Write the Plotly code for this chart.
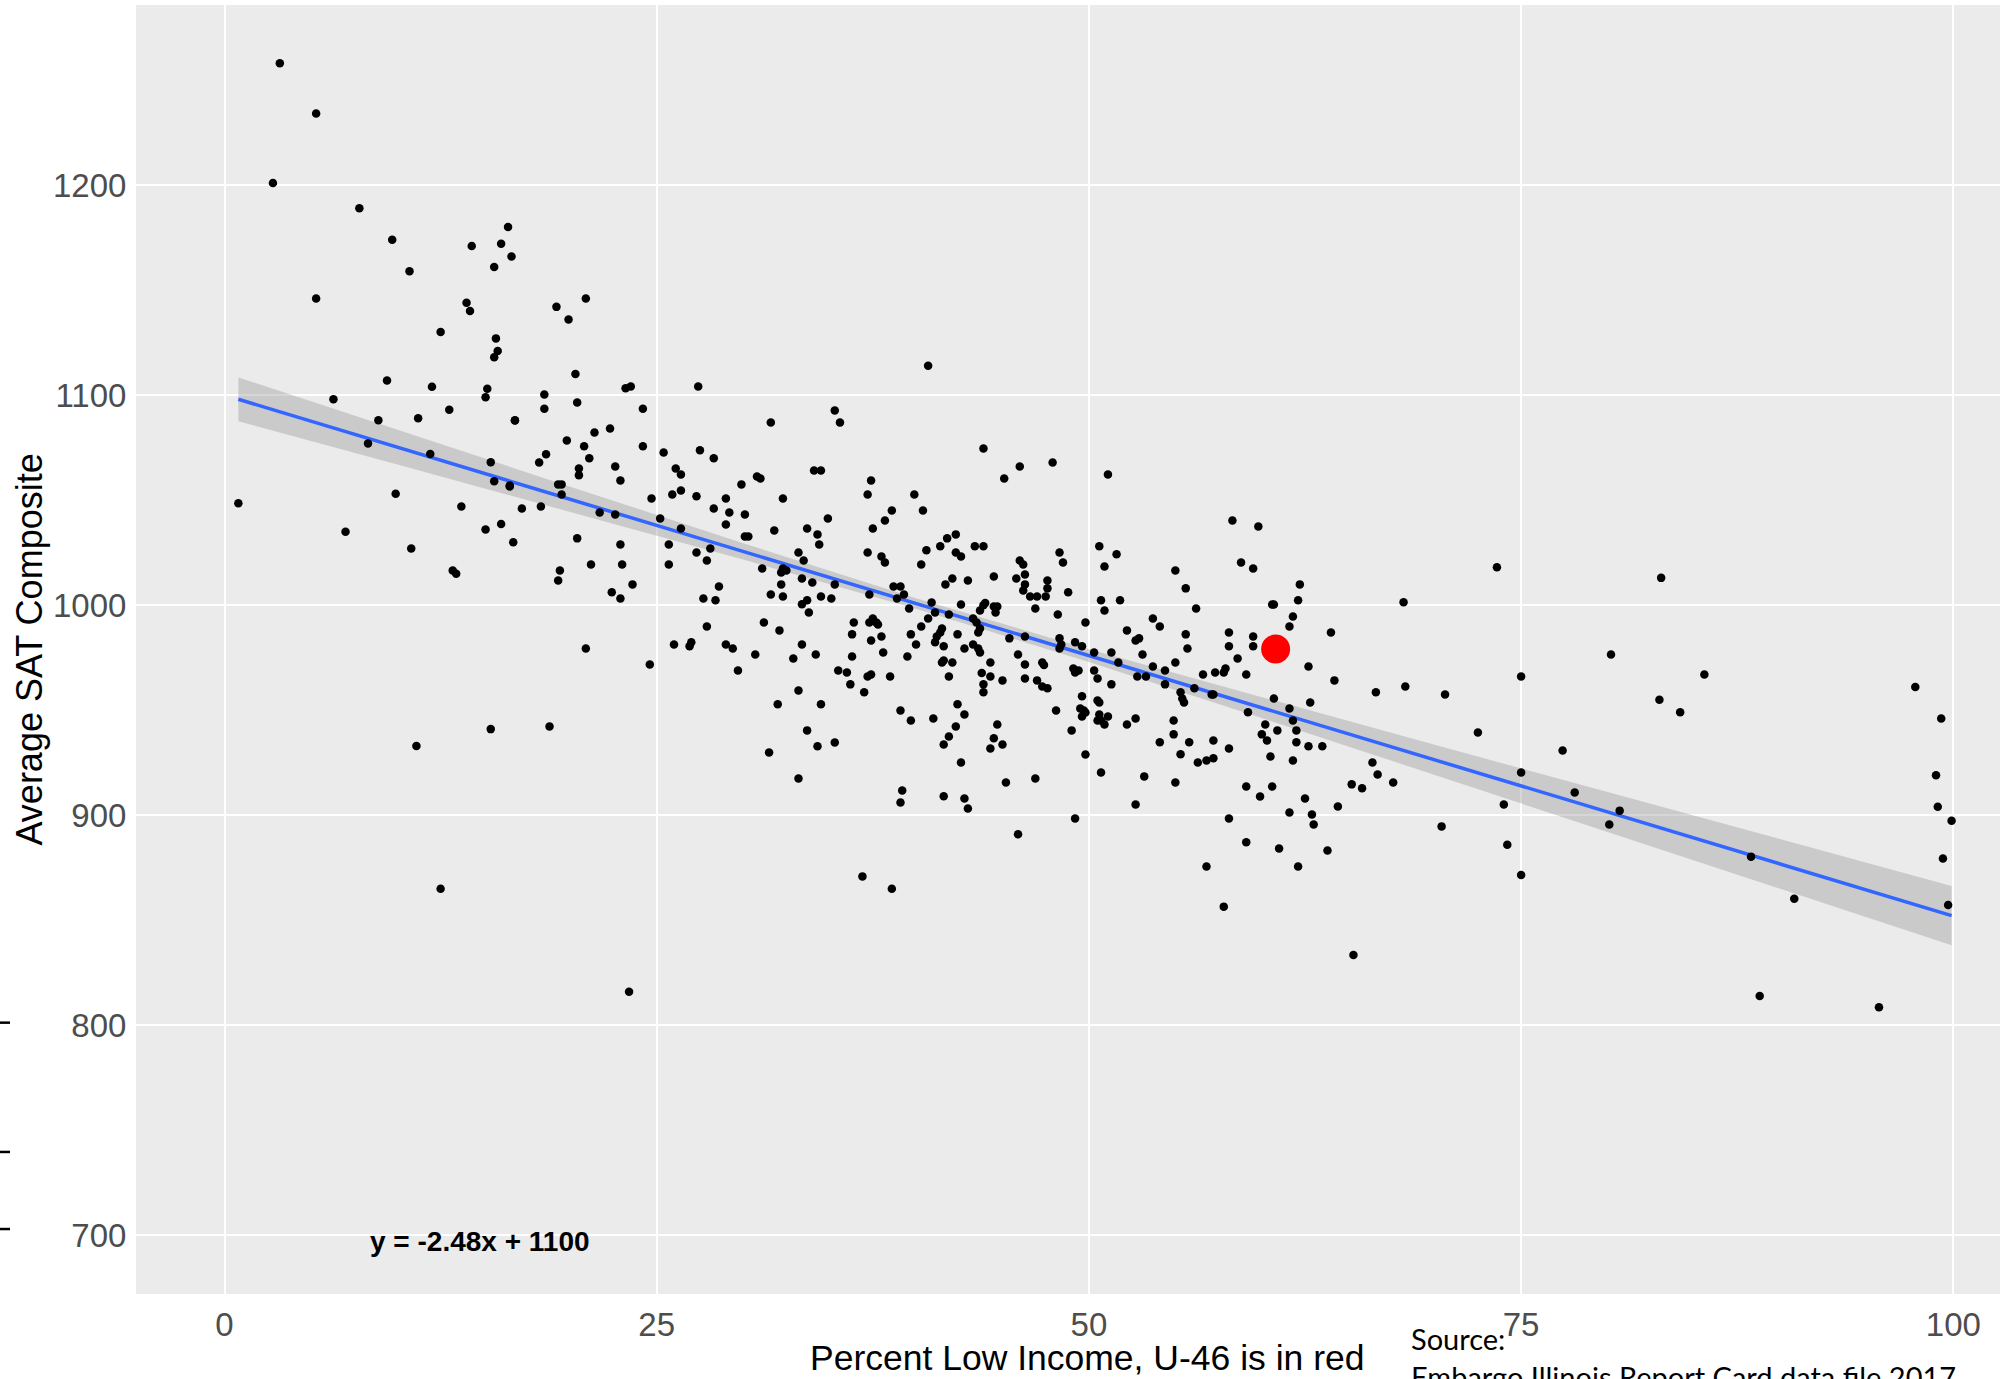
import plotly.graph_objects as go

# ---- data ----
pct_low_income = [
    3.2, 5.3, 2.8, 7.8, 9.7, 14.3, 16.0, 16.4, 16.6, 15.6, 10.7, 5.3, 14.0, 14.2, 19.2, 20.9, 19.9, 12.5, 15.7, 15.8,
    15.6, 20.3, 9.4, 12.0, 15.2, 15.1, 6.3, 8.9, 11.2, 13.0, 16.8, 8.3, 11.9, 15.4, 15.6, 16.5, 9.9,
    0.8, 7.0, 10.8, 13.2, 13.4, 15.1, 13.7, 11.1, 15.4, 12.5, 23.4,
    40.7, 38.6, 57.8, 95.7,
    73.6, 83.1, 80.2, 85.6, 75.0, 83.0, 84.2, 97.8, 99.3, 99.0, 99.1, 99.9, 99.4, 99.7, 77.4, 78.1, 80.7, 80.1, 75.0, 74.0,
    74.2, 75.0, 88.3, 90.8, 88.8, 65.3,
    23.2, 23.5, 27.4, 18.5, 18.5, 20.4, 24.2, 16.8, 35.3, 35.6, 31.6, 19.8, 21.4, 22.3, 20.8, 18.6, 18.2, 21.1, 24.2, 25.4,
    27.5, 28.3, 20.5, 20.5, 22.6, 22.9, 26.1, 26.4, 19.3, 19.5, 19.5, 16.5, 17.2, 18.3, 16.0, 16.7, 21.7, 22.6, 20.4, 22.9,
    21.2, 23.0, 19.4, 19.3, 22.4, 22.9, 23.6, 24.7, 25.2, 25.9, 26.4, 27.3, 26.4, 25.7, 25.7, 27.3, 28.1, 27.9, 28.6, 27.7,
    28.4, 29.0, 28.3, 29.2, 29.0, 30.1, 30.1, 30.3, 29.9, 30.8, 31.0, 32.3, 31.8, 34.1, 34.5, 34.9, 33.7, 34.3, 34.4, 37.4,
    37.2, 39.9, 40.4, 38.6, 38.2, 37.5, 37.2, 38.0, 38.2, 41.8, 42.3, 41.4, 40.6, 40.3, 42.3, 42.6, 43.4, 42.1, 41.7, 43.0,
    33.2, 33.5, 31.1, 32.3, 32.5, 32.2, 32.2, 33.4, 34.0, 31.6, 32.3, 35.3, 34.5, 35.1, 33.7, 33.4, 33.8,
    37.3, 38.7, 39.1, 39.3, 38.9, 39.6, 40.9, 41.1, 40.7, 41.9, 40.3, 39.7, 40.0, 39.5, 41.5, 41.4, 41.2, 41.1, 41.6, 42.4,
    42.8, 42.6, 43.3, 43.5, 43.7, 43.6, 43.7, 43.3, 43.6, 43.7,
    41.5, 41.6, 42.1, 41.9, 38.5, 38.1, 38.0, 37.4, 37.3, 37.5, 37.7, 37.8, 36.4, 36.3, 36.3, 35.5, 36.0, 36.2, 37.2, 37.4,
    37.0, 31.2, 32.1, 30.7, 29.7, 29.0, 29.4, 27.9, 26.9, 27.0, 26.0, 24.6, 20.9, 18.8,
    33.4, 32.9, 34.2, 33.2, 32.0, 34.5, 33.7, 34.3, 35.3, 31.5, 33.2,
    39.1, 39.7, 41.0, 42.4, 42.8, 42.3, 41.9, 41.6, 42.6, 39.2, 39.1, 41.6, 42.8, 43.0, 36.9,
    43.9, 45.1, 46.0, 47.9, 51.1, 43.9, 44.5, 45.8, 46.0, 46.2, 46.3, 46.3, 46.2, 46.6, 47.0, 47.5, 47.6, 47.6, 46.9, 48.3,
    48.5, 48.8, 48.2, 43.9, 44.0, 44.5, 44.7, 44.6,
    43.8, 43.9, 43.9, 44.3, 44.3, 45.0, 45.4, 46.3, 45.9, 46.3, 46.3, 47.3, 47.4, 47.0, 47.3, 47.6,
    48.3, 48.4, 48.3, 49.2, 49.6, 49.1, 49.2, 49.4, 49.8, 50.3, 50.3, 50.5,
    50.6, 51.6, 50.9, 50.7, 50.9, 51.8, 51.3, 51.7, 51.3, 52.2, 52.7, 52.9, 53.1, 53.7, 54.1, 53.7, 54.4, 52.8, 53.3, 54.4,
    55.0, 55.6, 56.2, 55.6, 55.7, 55.0, 56.1, 55.3, 55.4, 55.5, 56.6, 57.1, 57.2, 57.3, 57.8, 57.9, 58.1, 58.1, 58.6, 59.1,
    58.8, 59.5, 58.3, 59.8, 59.5, 59.5, 60.6, 60.7,
    62.2, 62.1, 61.8, 61.6, 62.7, 64.0, 64.2, 60.7, 61.6, 62.8, 59.2, 61.8, 62.0, 60.2, 60.9, 60.0, 60.3, 62.0, 62.7, 63.5,
    60.5, 61.8, 58.1, 57.2, 55.8, 54.1, 54.9, 54.9, 55.3, 56.3, 56.8, 57.2, 55.0, 53.2, 52.7, 52.2, 52.7, 50.7, 49.8, 49.2,
    49.0, 48.1, 49.6, 49.5, 49.7, 49.6, 49.8, 50.5, 50.6, 50.6, 50.7, 50.5, 51.1, 50.9,
    44.7, 44.5, 44.3, 45.0, 45.2, 46.9, 45.9,
    59.1, 59.9, 60.6, 58.1, 59.1, 61.0, 62.1, 56.8, 61.6, 62.5, 62.9, 63.0, 63.8, 64.4, 65.2, 65.8, 66.4, 66.7, 67.6, 66.6,
    68.3, 70.6, 68.2, 72.5, 70.4,
]
avg_sat_composite = [
    1258, 1234, 1201, 1189, 1174, 1171, 1172, 1180, 1166, 1161, 1159, 1146, 1144, 1140, 1142, 1146, 1136, 1130, 1127, 1121,
    1118, 1110, 1107, 1104, 1103, 1099, 1098, 1088, 1089, 1093, 1088, 1077, 1072, 1068, 1059, 1057, 1053,
    1048.5, 1035, 1027, 1016.5, 1015, 1036, 1047, 933, 941, 865, 816,
    1114, 865, 856.5, 808.6,
    1018, 1013, 976.5, 967, 966, 955, 949, 961, 946, 919, 904, 897.4, 879.4, 857.3, 930.8, 910.8, 902.2, 895.6, 920.3, 905.1,
    886, 871.6, 880.3, 860.3, 814, 833.5,
    1103.3, 1104.1, 1104.1, 1100.3, 1093.5, 1096.5, 1093.5, 1087.9, 1092.7, 1087, 1087, 1078.4, 1082.2, 1084.1, 1075.6, 1071.8, 1067.9, 1069.9, 1075.6, 1072.7,
    1073.7, 1069.9, 1065.1, 1061.9, 1066, 1059.4, 1065.1, 1062.2, 1057.5, 1057.5, 1052.7, 1056.5, 1046, 1047, 1038.6, 1029.9, 1044.1, 1043.2, 1031.8, 1028.9,
    1019.4, 1019.4, 1016.5, 1011.8, 1006.1, 1003.2, 1009.9, 1050.8, 1041.3, 1052.7, 1054.6, 1051.8, 1036.5, 1028.9, 1019.4, 1025.1, 1027, 1021.3, 1008.9, 1003.2,
    1002.3, 1050.8, 1046, 1044.1, 1038.4, 1043.2, 1032.7, 1032.7, 1057.5, 1061.3, 1060.3, 1050.8, 1035.6, 1064.1, 1064.1, 1041.3, 1036.5, 1033.7, 1028.9, 1059.4,
    1052.7, 1052.7, 1045.1, 1045.1, 1040.3, 1036.5, 1025.1, 1023.2, 1020.3, 1031.8, 1033.7, 1028, 1026.1, 1019.4, 1025.1, 1023.2, 1028, 1012.7, 1009.9, 1011.8,
    1025.1, 1021.3, 1017.5, 1017.5, 1016.5, 1015.6, 1009.9, 1012.7, 1010.8, 1005.1, 1004.1, 1009.9, 1004.1, 1003.2, 1002.3, 1000.4, 996.5,
    1005.1, 1008.9, 1008.9, 1005.1, 1003.2, 998.4, 1001.3, 996.5, 993.7, 995.6, 989.9, 986.1, 981.3, 975.6, 988.9, 987, 985.1, 982.3, 980.4, 986.1,
    979.4, 1000.3, 993.7, 991.8, 988.9, 987, 997.5, 981.3, 979.4, 977.5,
    972.7, 973.7, 972.7, 966.1, 966.1, 977.5, 985.1, 983.2, 991.8, 993.7, 991.8, 990.8, 991.8, 986.1, 975.6, 968.9, 968, 962.3, 966.1, 967,
    958.5, 991.8, 988, 976.5, 968.9, 981.3, 979.4, 989.9, 980.4, 982.3, 981.3, 971.8, 979.4, 942.3,
    981.3, 974.6, 976.5, 959.4, 952.8, 952.8, 940.4, 932.8, 934.6, 929.9, 917.5,
    949.9, 945.1, 946.1, 952.8, 948, 942.3, 937.5, 933.7, 925.1, 911.8, 906.1, 909, 908, 903.2, 870.9,
    1074.6, 1060.3, 1066, 1067.9, 1062.2, 1028, 1013.7, 1012.7, 1021.3, 1019.4, 1014.6, 1009.9, 1007, 1004.1, 1004.1, 1004.1, 1011.8, 1008, 998.4, 1025.1,
    1020.3, 1006.1, 995.6, 1000, 1001, 999.4, 999.4, 996.5,
    967.7, 962.3, 958.5, 972.7, 966.1, 964.2, 984.2, 985.1, 976.5, 971.8, 965.1, 972.7, 971.5, 964.2, 961.3, 960.4,
    984.2, 981.3, 979.4, 982.3, 980.4, 969.9, 968, 968.9, 991.8, 977.5, 968.9, 965.1,
    1028, 1024.2, 1018.4, 1002.3, 997.5, 1002.3, 977.5, 972.7, 962.3, 988, 983.2, 984.2, 976.5, 993.7, 989.9, 970.8, 968.9, 966.1, 966.1, 962.3,
    1016.5, 1008, 998.4, 986.1, 979.4, 972.7, 960.4, 958.5, 955.6, 953.7, 967, 957.5, 957.5, 967.9, 967.9, 969.9, 987, 980.4, 974.6, 967,
    1020.3, 1017.5, 1040.3, 1037.5, 985.1, 980.4, 1000.3, 1000.3,
    1009.9, 1002.3, 994.6, 989.9, 970.8, 987, 964.2, 955.6, 950.8, 953.7, 949, 945.1, 940.4, 943.2, 940.4, 938.5, 935.6, 934.7, 932.8, 932.8,
    928, 926.1, 931.8, 935.6, 934.7, 934.7, 945.1, 938.5, 929, 925.1, 926.1, 927.1, 915.6, 918.5, 905.1, 943.2, 946.1, 920.4, 928.9, 898.5,
    940.4, 949.9, 956.6, 950.8, 949.9, 947, 948.9, 954.6, 953.7, 948, 945.1, 945.1, 947, 943.2,
    943.2, 936.6, 931.8, 933.7, 915.6, 917.5, 890.9,
    913.7, 908.9, 913.7, 898.5, 887.1, 884.2, 875.6, 875.6, 901.3, 908, 900.4, 895.6, 883.2, 904.2, 914.7, 912.8, 925.1, 919.4, 915.6, 958.5,
    961.3, 957.5, 1001.4, 939.4, 894.7,
]

u46_x = [60.8]
u46_y = [979.1]

fit_x = [0.8, 99.9]
fit_y = [1098.0, 852.2]

band_x = [0.8, 10, 20, 30, 40, 50, 60, 70, 80, 90, 99.9]
band_upper = [1108.4, 1083.4, 1056.4, 1029.5, 1003.3, 979.0, 956.1, 933.5, 911.1, 888.6, 866.3]
band_lower = [1087.6, 1067.0, 1044.4, 1021.7, 998.3, 973.0, 946.3, 919.3, 892.1, 865.0, 838.1]

x_ticks = [0, 25, 50, 75, 100]
y_ticks = [700, 800, 900, 1000, 1100, 1200]

equation_text = "y = -2.48x + 1100"
x_title = "Percent Low Income, U-46 is in red"
y_title = "Average SAT Composite"
source_line1 = "Source:"
source_line2 = "Embargo Illinois Report Card data file 2017"

# ---- figure ----
fig = go.Figure()

fig.add_trace(go.Scatter(
    x=band_x + band_x[::-1], y=band_upper + band_lower[::-1],
    fill="toself", fillcolor="rgba(153,153,153,0.4)",
    line=dict(width=0), mode="lines", hoverinfo="skip", showlegend=False))

fig.add_trace(go.Scatter(
    x=fit_x, y=fit_y, mode="lines",
    line=dict(color="#3366FF", width=3.5), showlegend=False))

fig.add_trace(go.Scatter(
    x=pct_low_income, y=avg_sat_composite, mode="markers",
    marker=dict(color="black", size=8.5, line=dict(width=0)), showlegend=False))

fig.add_trace(go.Scatter(
    x=u46_x, y=u46_y, mode="markers",
    marker=dict(color="#FF0000", size=29, line=dict(width=0)), showlegend=False))

tick_font = dict(family="Liberation Sans, Arial, sans-serif", size=33, color="#4D4D4D")

fig.update_layout(
    width=2000, height=1379,
    margin=dict(l=136, r=0, t=5, b=85),
    paper_bgcolor="white", plot_bgcolor="#EBEBEB",
    showlegend=False,
    xaxis=dict(range=[-5.12, 102.7], tickvals=x_ticks, showgrid=True, gridcolor="white", gridwidth=2.2,
               zeroline=False, showline=False, ticks="outside", ticklen=1, tickcolor="rgba(0,0,0,0)",
               tickfont=tick_font),
    yaxis=dict(range=[672.1, 1285.7], tickvals=y_ticks, showgrid=True, gridcolor="white", gridwidth=2.2,
               zeroline=False, showline=False, ticks="outside", ticklen=2, tickcolor="rgba(0,0,0,0)",
               tickfont=tick_font),
    font=dict(family="Liberation Sans, Arial, sans-serif"),
)

fig.add_annotation(text=y_title, xref="paper", yref="paper", x=-0.0574, y=0.5,
                   textangle=-90, showarrow=False, xanchor="center", yanchor="middle",
                   font=dict(family="Liberation Sans, Arial, sans-serif", size=36, color="black"))
fig.add_annotation(text=x_title, xref="paper", yref="paper", x=0.510, y=-0.0497,
                   showarrow=False, xanchor="center", yanchor="middle",
                   font=dict(family="Liberation Sans, Arial, sans-serif", size=35.5, color="black"))
fig.add_annotation(text="<b>" + equation_text + "</b>", xref="x", yref="y", x=14.8, y=697,
                   showarrow=False, xanchor="center", yanchor="middle",
                   font=dict(family="Liberation Sans, Arial, sans-serif", size=28, color="black"))
fig.add_annotation(text=source_line1, xref="paper", yref="paper", x=0.683, y=-0.0345,
                   showarrow=False, xanchor="left", yanchor="middle",
                   font=dict(family="Lato, sans-serif", size=29, color="black"))
fig.add_annotation(text=source_line2, xref="paper", yref="paper", x=0.683, y=-0.064,
                   showarrow=False, xanchor="left", yanchor="middle",
                   font=dict(family="Lato, sans-serif", size=29, color="black"))

# small stray dashes at the far left edge of the slide
for yp in [0.2105, 0.1102, 0.0504]:
    fig.add_shape(type="line", xref="paper", yref="paper", x0=-0.073, x1=-0.0676, y0=yp, y1=yp,
                  line=dict(color="black", width=2.5))

fig.write_html(
    "out.html",
    config={"displayModeBar": False},
    post_script="document.body.style.margin='0';document.body.style.padding='0';"
                "document.body.style.overflow='hidden';",
)
